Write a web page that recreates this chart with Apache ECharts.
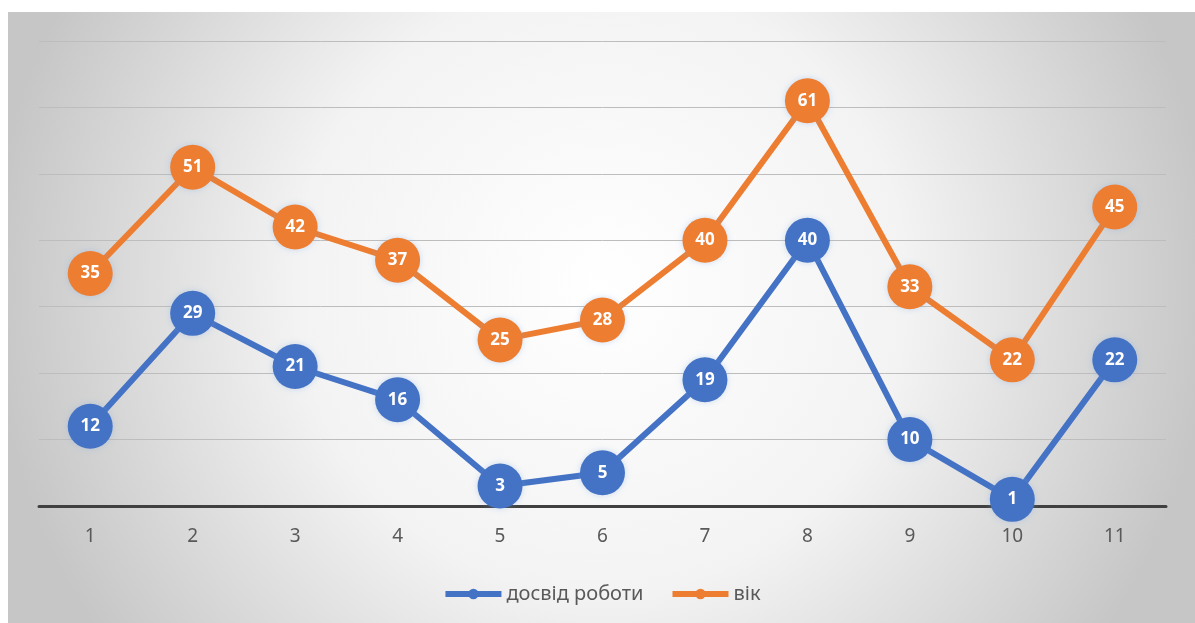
<!DOCTYPE html>
<html>
<head>
<meta charset="utf-8">
<script src="https://cdn.jsdelivr.net/npm/echarts@6/dist/echarts.min.js"></script>
<style>
html,body{margin:0;padding:0;background:#fff;}
#chart{position:absolute;left:8px;top:12px;width:1187px;height:611px;}
</style>
</head>
<body>
<div id="chart"></div>
<script>
var categories = ['1','2','3','4','5','6','7','8','9','10','11'];
var experience = [12, 29, 21, 16, 3, 5, 19, 40, 10, 1, 22];
var age = [35, 51, 42, 37, 25, 28, 40, 61, 33, 22, 45];

var COLOR = {
	BLUE:'#4472C4',
	ORANGE:'#ED7D31',
	TEXT:'#595959'
};

function makeSeries(name, data, color){
	return {
		name:name,
		type:'line',
		data:data,
		symbol:'circle',
		symbolSize:45,
		lineStyle:{color:color, width:6},
		itemStyle:{color:color, shadowColor:'rgba(120,170,230,0.35)', shadowBlur:6},
		label:{
			show:true,
			position:'inside',
			color:'#fff',
			fontWeight:'bold',
			fontSize:17,
			fontFamily:'Noto Sans'
		},
		emphasis:{disabled:true}
	};
}

var myChart = echarts.init(document.getElementById('chart'));
myChart.setOption({
	backgroundColor:{
		type:'radial', x:0.5, y:0.45, r:1.0,
		colorStops:[
			{offset:0, color:'#ffffff'},
			{offset:0.5, color:'#f3f3f3'},
			{offset:1, color:'#c6c6c6'}
		]
	},
	animation:false,
	textStyle:{fontFamily:'Noto Sans'},
	grid:{left:31, right:29, top:29, bottom:117},
	legend:{
		bottom:14,
		left:'center',
		itemWidth:56,
		itemHeight:13,
		itemGap:26,
		lineStyle:{width:6},
		textStyle:{color:COLOR.TEXT, fontSize:20, fontFamily:'Noto Sans'},
		data:['досвід роботи','вік']
	},
	xAxis:{
		type:'category',
		boundaryGap:true,
		data:categories,
		axisTick:{show:false},
		axisLine:{show:true, lineStyle:{color:'#404040', width:3}},
		axisLabel:{color:COLOR.TEXT, fontSize:19, margin:21}
	},
	yAxis:{
		type:'value',
		min:0,
		max:70,
		interval:10,
		axisLabel:{show:false},
		axisLine:{show:false},
		axisTick:{show:false},
		splitLine:{lineStyle:{color:'#bdbdbd', width:1}}
	},
	series:[
		makeSeries('досвід роботи', experience, COLOR.BLUE),
		makeSeries('вік', age, COLOR.ORANGE)
	]
});
</script>
</body>
</html>
